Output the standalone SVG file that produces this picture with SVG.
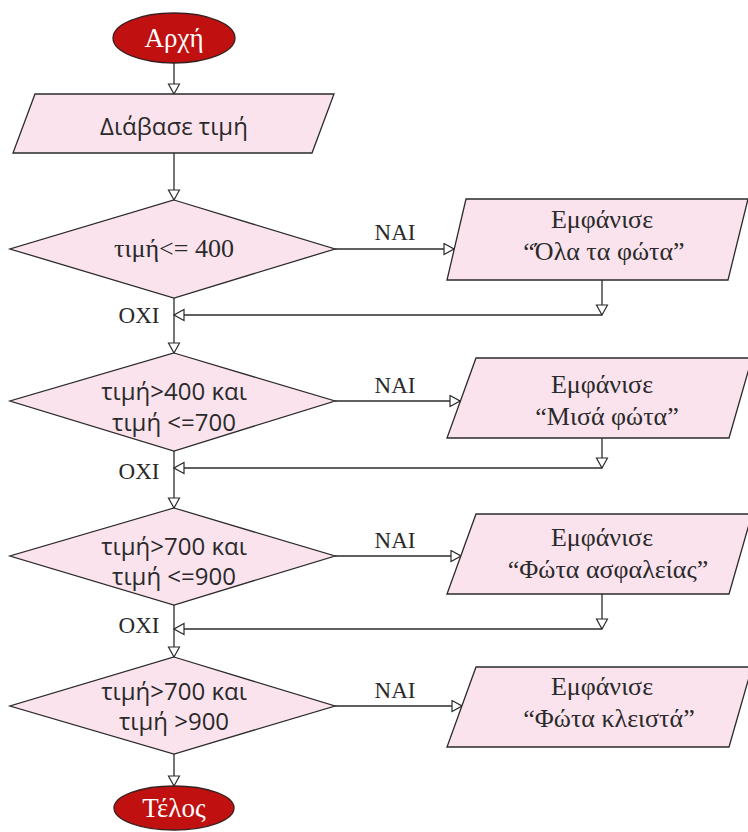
<svg xmlns="http://www.w3.org/2000/svg" width="748" height="832" viewBox="0 0 748 832">
<defs>
<style>
.term{fill:#c0100f;stroke:#3a2020;stroke-width:1.3}
.shape{fill:#fbe3ee;stroke:#2b2b2b;stroke-width:1.3}
.conn{stroke:#2b2b2b;stroke-width:1.3;fill:none;marker-end:url(#arr)}
.tw{font-family:"Liberation Serif",serif;font-size:27px;fill:#ffffff;text-anchor:middle}
.ts{font-family:"Liberation Serif",serif;font-size:26px;fill:#2a2a2a;text-anchor:middle}
.tn{font-family:"Open Sans","Noto Sans",sans-serif;font-size:24px;fill:#2a2a2a;text-anchor:middle}
.lab{font-family:"Liberation Serif",serif;font-size:23px;fill:#2a2a2a;text-anchor:middle}
</style>
<marker id="arr" markerWidth="12" markerHeight="14" refX="11" refY="6.5" orient="auto" markerUnits="userSpaceOnUse">
<path d="M1,1 L11,6.5 L1,12 Z" fill="#ffffff" stroke="#2b2b2b" stroke-width="1.2"/>
</marker>
</defs>

<g id="connectors">
<line class="conn" x1="174" y1="63" x2="174" y2="94"/>
<line class="conn" x1="174" y1="153" x2="174" y2="200"/>
<line class="conn" x1="174" y1="298" x2="174" y2="353"/>
<line class="conn" x1="335" y1="249" x2="454" y2="249"/>
<line class="conn" x1="602" y1="280" x2="602" y2="315"/>
<line class="conn" x1="602" y1="315" x2="174" y2="315"/>
<line class="conn" x1="174" y1="451" x2="174" y2="508"/>
<line class="conn" x1="335" y1="401" x2="460" y2="401"/>
<line class="conn" x1="602" y1="438" x2="602" y2="468"/>
<line class="conn" x1="602" y1="468" x2="174" y2="468"/>
<line class="conn" x1="174" y1="605" x2="174" y2="657"/>
<line class="conn" x1="335" y1="556" x2="461" y2="556"/>
<line class="conn" x1="602" y1="594" x2="602" y2="629"/>
<line class="conn" x1="602" y1="629" x2="174" y2="629"/>
<line class="conn" x1="174" y1="754" x2="174" y2="786"/>
<line class="conn" x1="335" y1="706" x2="462" y2="706"/>
<text class="lab" x="395" y="240">NAI</text>
<text class="lab" x="395" y="393">NAI</text>
<text class="lab" x="395" y="548">NAI</text>
<text class="lab" x="395" y="698">NAI</text>
<text class="lab" x="139" y="323">OXI</text>
<text class="lab" x="139" y="479">OXI</text>
<text class="lab" x="139" y="633">OXI</text>
</g>

<g id="start">
<ellipse class="term" cx="174" cy="38" rx="61" ry="25"/>
<text class="tw" x="174" y="47">Αρχή</text>
</g>

<g id="read">
<polygon class="shape" points="35,94 334,94 312,153 13,153"/>
<text class="tn" x="174" y="135">Διάβασε τιμή</text>
</g>

<g id="cond1">
<polygon class="shape" points="174,200 335,249 174,298 10,249"/>
<text class="ts" x="174" y="257">τιμή&lt;= 400</text>
</g>

<g id="out1">
<polygon class="shape" points="466,199 748,199 728,280 447,280"/>
<text class="ts" x="602" y="228">Εμφάνισε</text>
<text class="ts" x="604" y="260">“Όλα τα φώτα”</text>
</g>

<g id="cond2">
<polygon class="shape" points="174,353 335,401 174,451 10,401"/>
<text class="tn" x="174" y="400">τιμή&gt;400 και</text>
<text class="tn" x="174" y="431">τιμή &lt;=700</text>
</g>

<g id="out2">
<polygon class="shape" points="476,358 752,358 729,438 447,438"/>
<text class="ts" x="602" y="393">Εμφάνισε</text>
<text class="ts" x="607" y="425">“Μισά φώτα”</text>
</g>

<g id="cond3">
<polygon class="shape" points="174,508 335,556 174,605 10,556"/>
<text class="tn" x="174" y="555">τιμή&gt;700 και</text>
<text class="tn" x="174" y="585">τιμή &lt;=900</text>
</g>

<g id="out3">
<polygon class="shape" points="476,514 752,514 729,594 447,594"/>
<text class="ts" x="602" y="546">Εμφάνισε</text>
<text class="ts" x="608" y="578">“Φώτα ασφαλείας”</text>
</g>

<g id="cond4">
<polygon class="shape" points="174,657 335,706 174,754 10,706"/>
<text class="tn" x="174" y="700">τιμή&gt;700 και</text>
<text class="tn" x="174" y="730">τιμή &gt;900</text>
</g>

<g id="out4">
<polygon class="shape" points="476,667 752,667 729,747 447,747"/>
<text class="ts" x="602" y="695">Εμφάνισε</text>
<text class="ts" x="609" y="727">“Φώτα κλειστά”</text>
</g>

<g id="end">
<ellipse class="term" cx="174" cy="808" rx="60" ry="22"/>
<text class="tw" x="174" y="817">Τέλος</text>
</g>
</svg>
